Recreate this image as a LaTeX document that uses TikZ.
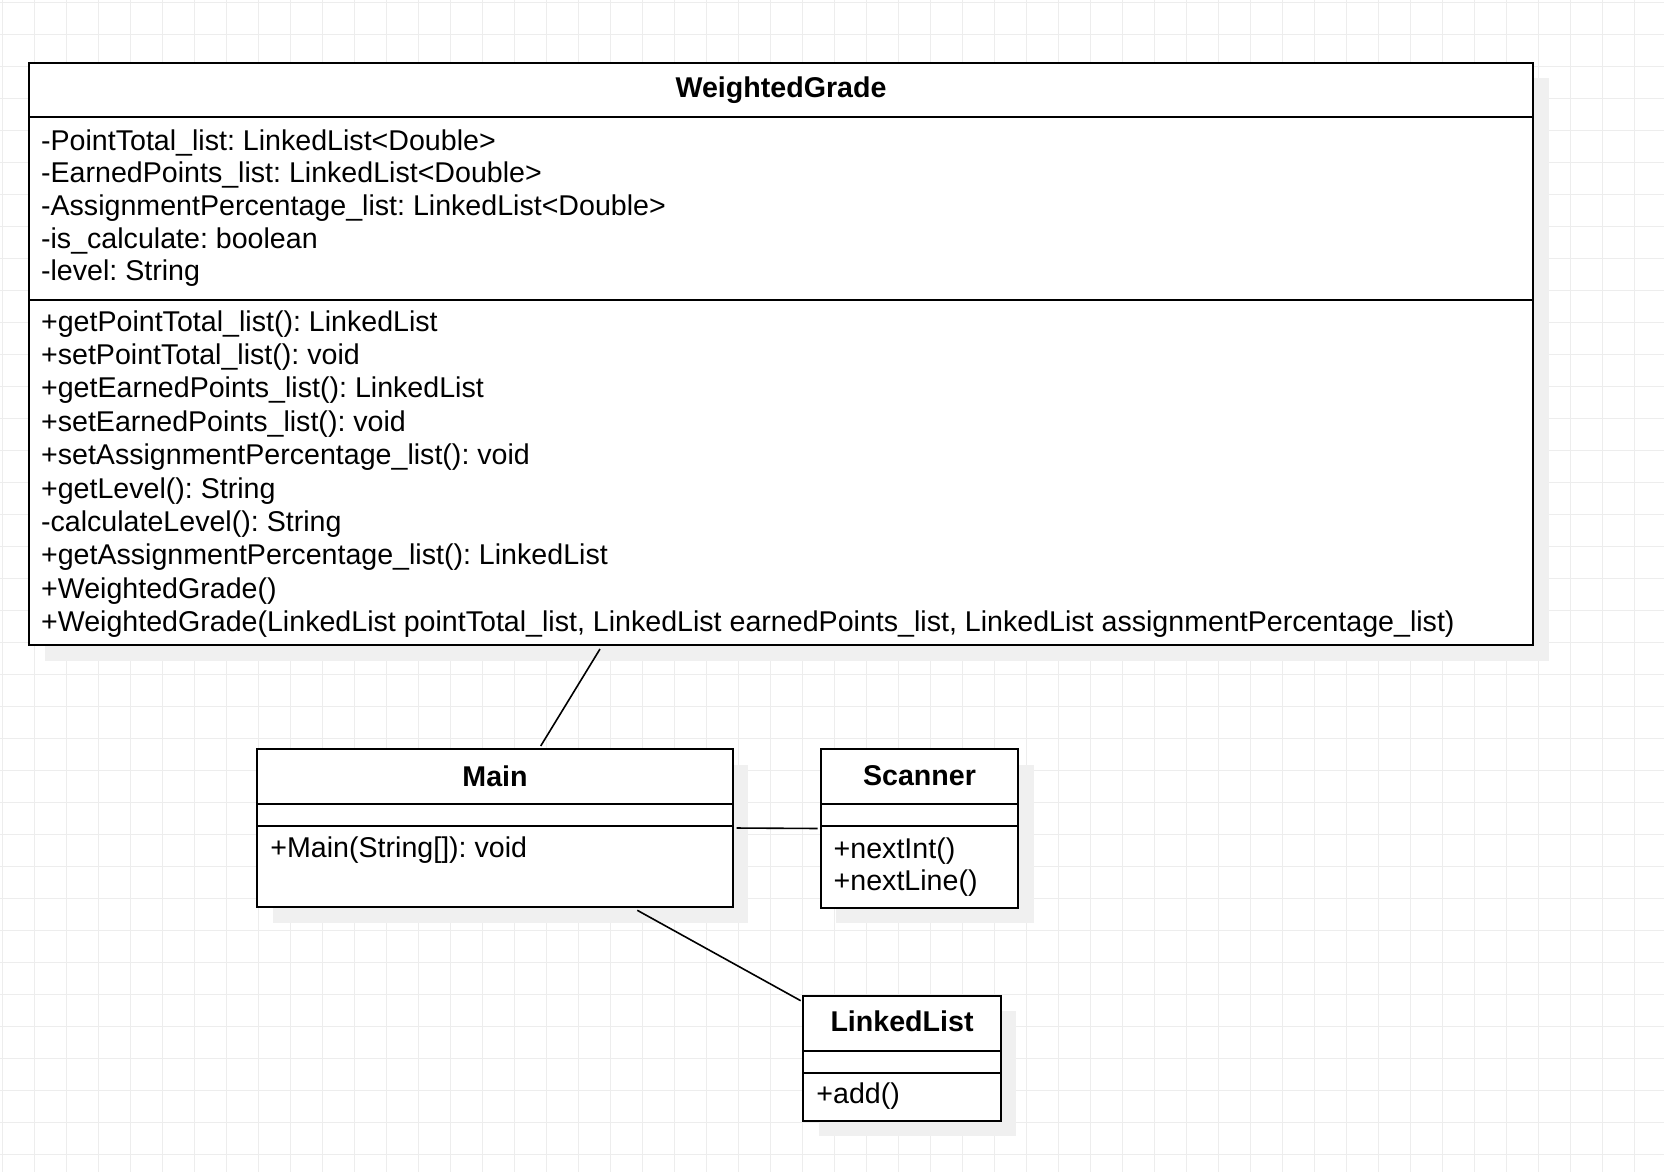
\documentclass[tikz,border=0pt]{standalone}
\usepackage{fontspec}
\setmainfont{Liberation Sans}
\usetikzlibrary{calc,fit,shadows}
\frenchspacing

\tikzset{
  classbox/.style={draw, line width=1pt, fill=white, inner sep=0pt,
    drop shadow={shadow xshift=7.8pt, shadow yshift=-7.8pt, fill=black!6, opacity=1}},
  sep/.style={line width=1pt},
  classname/.style={anchor=base, inner sep=0pt, font=\fontsize{14.3}{16.5}\selectfont\bfseries},
  member/.style={anchor=base west, inner sep=0pt, font=\fontsize{14.3}{16.5}\selectfont},
  gridline/.style={black!7, line width=0.5pt},
  link/.style={line width=0.8pt},
}

\begin{document}
\begin{tikzpicture}[x=0.5pt,y=-0.5pt]
\useasboundingbox (0,0) rectangle (1664,1172);
\fill[white] (0,0) rectangle (1664,1172);
% background grid
\foreach \gx in {0,32,...,1664}
  \draw[gridline] (\gx+2.3,0) -- (\gx+2.3,1172);
\foreach \gy in {0,32,...,1172}
  \draw[gridline] (0,\gy+2.3) -- (1664,\gy+2.3);

% WeightedGrade
\node[classbox, fit={(29,62.7) (1533.3,645)}] (wg) {};
\draw[sep] (29,117.3) -- (1533.3,117.3);
\draw[sep] (29,300) -- (1533.3,300);
\node[classname] (wgname) at (781,97.3) {WeightedGrade};
\foreach \txt [count=\i] in {
  {-PointTotal\_list: LinkedList<Double>},
  {-EarnedPoints\_list: LinkedList<Double>},
  {-AssignmentPercentage\_list: LinkedList<Double>},
  {-is\_calculate: boolean},
  {-level: String}}
  \node[member] (wgattr\i) at (40.7,{150+(\i-1)*32.7}) {\txt};
\foreach \txt [count=\i] in {
  {+getPointTotal\_list(): LinkedList},
  {+setPointTotal\_list(): void},
  {+getEarnedPoints\_list(): LinkedList},
  {+setEarnedPoints\_list(): void},
  {+setAssignmentPercentage\_list(): void},
  {+getLevel(): String},
  {-calculateLevel(): String},
  {+getAssignmentPercentage\_list(): LinkedList},
  {+WeightedGrade()},
  {+WeightedGrade(LinkedList pointTotal\_list, LinkedList earnedPoints\_list, LinkedList assignmentPercentage\_list)}}
  \node[member] (wgop\i) at (40.7,{331+(\i-1)*33.4}) {\txt};

% Main
\node[classbox, fit={(257.3,749) (732.7,907)}] (main) {};
\draw[sep] (257.3,804) -- (732.7,804);
\draw[sep] (257.3,826) -- (732.7,826);
\node[classname] (mainname) at (495,786) {Main};
\node[member] (mainop1) at (270,857.7) {+Main(String[]): void};

% Scanner
\node[classbox, fit={(820.7,749.3) (1018.3,907.7)}] (scan) {};
\draw[sep] (820.7,803.7) -- (1018.3,803.7);
\draw[sep] (820.7,826.3) -- (1018.3,826.3);
\node[classname] (scanname) at (919.5,785) {Scanner};
\node[member] (scanop1) at (833.3,858.3) {+nextInt()};
\node[member] (scanop2) at (833.3,890.7) {+nextLine()};

% LinkedList
\node[classbox, fit={(803.3,995.7) (1000.7,1120.7)}] (ll) {};
\draw[sep] (803.3,1050.7) -- (1000.7,1050.7);
\draw[sep] (803.3,1072.7) -- (1000.7,1072.7);
\node[classname] (llname) at (902,1031.7) {LinkedList};
\node[member] (llop1) at (816,1103.3) {+add()};

% associations
\draw[link] ($(wg.south west)+(572,3)$) -- ($(main.north west)+(284.4,-2)$);
\draw[link, shorten <=1.5pt, shorten >=1pt] (main.east) -- (scan.west);
\draw[link] ($(main.south west)+(381,2.3)$) -- ($(ll.north west)+(-1.6,6)$);
\end{tikzpicture}
\end{document}
